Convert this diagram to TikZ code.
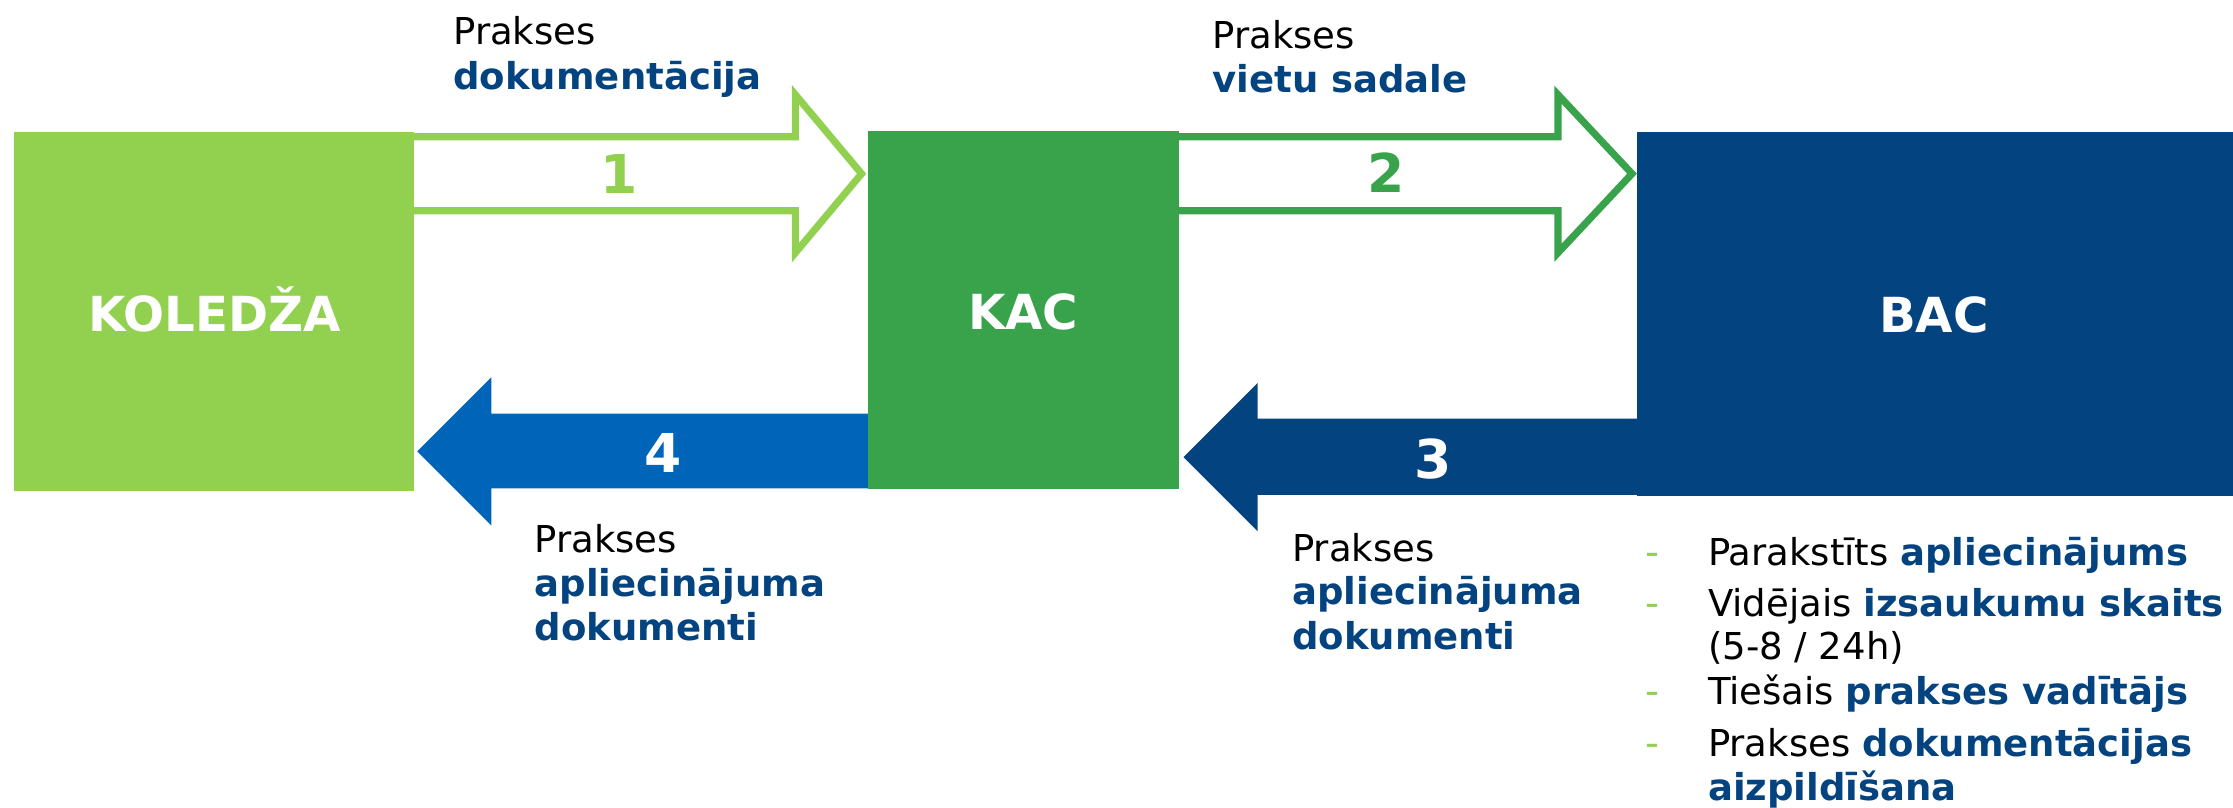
\documentclass[tikz,border=0pt]{standalone}
\usepackage{fontspec}
\setmainfont{DejaVu Sans}
\definecolor{lgreen}{HTML}{92D050}
\definecolor{kgreen}{HTML}{39A34C}
\definecolor{dblue}{HTML}{03437F}
\definecolor{mblue}{HTML}{0065B8}
\newcommand\hl[1]{\textcolor{dblue}{\textbf{#1}}}
\tikzset{
  lbl/.style={font=\fontsize{14.8pt}{17.6pt}\selectfont, anchor=base west, inner sep=0pt, text=black},
  blu/.style={text=dblue, font=\fontsize{14.8pt}{17.6pt}\selectfont\bfseries},
  boxlbl/.style={font=\fontsize{19.3pt}{23pt}\selectfont\bfseries, text=white, anchor=base, inner sep=0pt},
  numlbl/.style={font=\fontsize{21.4pt}{25pt}\selectfont\bfseries, anchor=base, inner sep=0pt},
  outarrow/.style={line width=0.1cm, line join=miter, fill=white},
  dashmark/.style={font=\fontsize{15.5pt}{17.6pt}\selectfont, text=lgreen, anchor=base west, inner sep=0pt},
  blockbox/.style={inner sep=0pt, outer sep=0pt, anchor=north west}
}
\begin{document}
\begin{tikzpicture}[x=0.02cm,y=-0.02cm]
\useasboundingbox (0,0) rectangle (1568,566.7);
% outline arrows (drawn first, left ends hidden under boxes)
\draw[outarrow, draw=lgreen] (280,96) -- (558.5,96) -- (558.5,66.5) -- (605,122) -- (558.5,177.5) -- (558.5,148) -- (280,148) -- cycle;
\draw[outarrow, draw=kgreen] (820,96) -- (1094,96) -- (1094,66.5) -- (1146,122) -- (1094,177.5) -- (1094,148) -- (820,148) -- cycle;
% filled arrows
\fill[mblue] (615,290.5) -- (345,290.5) -- (345,265) -- (293,317) -- (345,369) -- (345,343) -- (615,343) -- cycle;
\fill[dblue] (1155,294) -- (883,294) -- (883,269) -- (831,321) -- (883,373) -- (883,347.5) -- (1155,347.5) -- cycle;
% boxes
\node[blockbox, fill=lgreen, minimum width=5.62cm, minimum height=5.04cm] (kol) at (10,93) {};
\node[blockbox, fill=kgreen, minimum width=4.37cm, minimum height=5.03cm] (kac) at (609.5,92) {};
\node[blockbox, fill=dblue, minimum width=8.4cm, minimum height=5.1cm] (bac) at (1149.5,93) {};
\node[boxlbl] (kolt) at (150.5,232.5) {KOLEDŽA};
\node[boxlbl] (kact) at (718.5,231.5) {KAC};
\node[boxlbl] (bact) at (1358,233.5) {BAC};
% numbers
\node[numlbl, text=lgreen] (n1) at (435,136) {1};
\node[numlbl, text=kgreen] (n2) at (973,135.5) {2};
\node[numlbl, text=white] (n4) at (465.5,331.5) {4};
\node[numlbl, text=white] (n3) at (1006.5,336) {3};
% arrow captions
\node[lbl] (t1a) at (318,31.6) {Prakses};
\node[lbl,blu] (t1b) at (318,63) {dokumentācija};
\node[lbl] (t2a) at (851,34) {Prakses};
\node[lbl,blu] (t2b) at (851,65) {vietu sadale};
\node[lbl] (t4a) at (375,388) {Prakses};
\node[lbl,blu] (t4b) at (375,418.6) {apliecinājuma};
\node[lbl,blu] (t4c) at (375,450) {dokumenti};
\node[lbl] (t3a) at (907,394) {Prakses};
\node[lbl,blu] (t3b) at (907,424.5) {apliecinājuma};
\node[lbl,blu] (t3c) at (907,456) {dokumenti};
% list
\node[dashmark] (d1) at (1155,397) {-};
\node[dashmark] (d2) at (1155,433) {-};
\node[dashmark] (d3) at (1155,495) {-};
\node[dashmark] (d4) at (1155,531) {-};
\node[lbl] (l1) at (1199,397) {Parakstīts \hl{apliecinājums}};
\node[lbl] (l2) at (1199,433) {Vidējais \hl{izsaukumu skaits}};
\node[lbl] (l2b) at (1199,463) {(5-8 / 24h)};
\node[lbl] (l3) at (1199,495) {Tiešais \hl{prakses vadītājs}};
\node[lbl] (l4) at (1199,531) {Prakses \hl{dokumentācijas}};
\node[lbl] (l4b) at (1199,562) {\hl{aizpildīšana}};
\end{tikzpicture}
\end{document}
